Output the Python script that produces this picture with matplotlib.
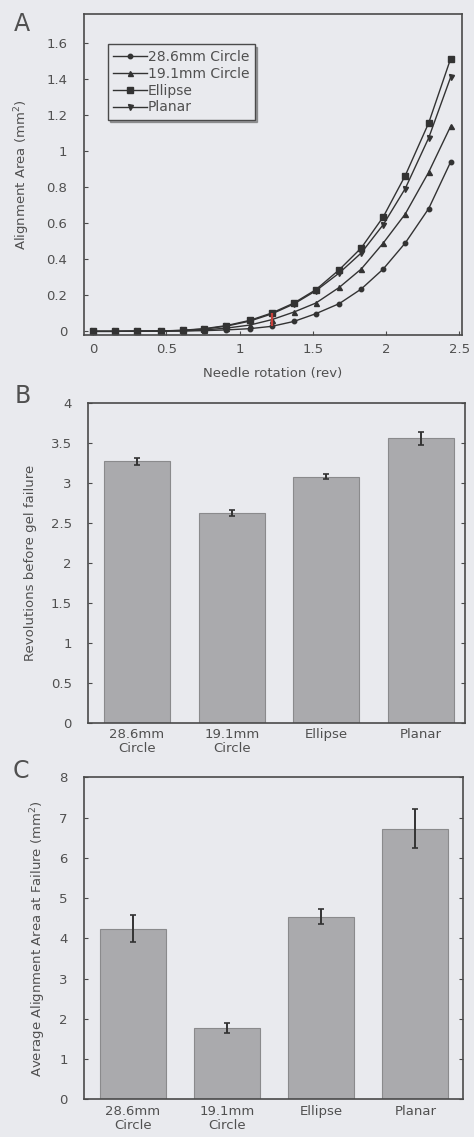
import matplotlib
matplotlib.use("Agg")
import matplotlib.pyplot as plt
import numpy as np

plt.rcParams['font.family'] = ['DejaVu Sans']

# ---------------- data ----------------
rotation = [0, 0.15, 0.3, 0.46, 0.61, 0.76, 0.91, 1.07, 1.22, 1.37, 1.52,
            1.68, 1.83, 1.98, 2.13, 2.29, 2.44]
circle_286 = [0, 0, 0.001, 0.001, 0.002, 0.004, 0.008, 0.015, 0.028, 0.055,
              0.098, 0.154, 0.235, 0.346, 0.49, 0.681, 0.94]
circle_191 = [0, 0, 0.001, 0.002, 0.003, 0.008, 0.018, 0.035, 0.065, 0.107,
              0.157, 0.244, 0.346, 0.49, 0.651, 0.883, 1.138]
ellipse = [0, 0, 0.001, 0.002, 0.006, 0.015, 0.032, 0.061, 0.102, 0.157,
           0.231, 0.342, 0.463, 0.635, 0.864, 1.156, 1.513]
planar = [0, 0, 0.001, 0.002, 0.005, 0.013, 0.029, 0.057, 0.097, 0.152,
          0.225, 0.324, 0.435, 0.592, 0.792, 1.073, 1.41]
series_labels = ["28.6mm Circle", "19.1mm Circle", "Ellipse", "Planar"]
red_index = 8

categories = ["28.6mm\nCircle", "19.1mm\nCircle", "Ellipse", "Planar"]
revolutions = [3.27, 2.625, 3.075, 3.555]
revolutions_err = [0.045, 0.04, 0.03, 0.08]
area_fail = [4.24, 1.76, 4.54, 6.72]
area_fail_err = [0.33, 0.125, 0.19, 0.49]

a_yticks = [0, 0.2, 0.4, 0.6, 0.8, 1.0, 1.2, 1.4, 1.6]
a_yticklabels = ["0", "0.2", "0.4", "0.6", "0.8", "1", "1.2", "1.4", "1.6"]
a_xticks = [0, 0.5, 1.0, 1.5, 2.0, 2.5]
a_xticklabels = ["0", "0.5", "1", "1.5", "2", "2.5"]
b_yticks = [0, 0.5, 1, 1.5, 2, 2.5, 3, 3.5, 4]
b_yticklabels = ["0", "0.5", "1", "1.5", "2", "2.5", "3", "3.5", "4"]
c_yticks = [0, 1, 2, 3, 4, 5, 6, 7, 8]

# ---------------- style ----------------
BG = "#e9eaee"
SPINE = "#4a4a4a"
LINE = "#333333"
BAR = "#aaaaad"
TXT = "#505050"
FS = 9.5

fig = plt.figure(figsize=(4.74, 11.37), dpi=100, facecolor=BG)


def style_axes(ax):
    ax.set_facecolor(BG)
    for s in ax.spines.values():
        s.set_color(SPINE)
        s.set_linewidth(1.2)
    ax.tick_params(colors=SPINE, labelcolor=TXT, labelsize=FS, direction='in',
                   length=3, width=0.8)


# ---------------- Panel A ----------------
axA = fig.add_axes([0.177, 0.7054, 0.797, 0.2823])
style_axes(axA)
markers = ['o', '^', 's', 'v']
sizes = [3.2, 3.6, 4.0, 3.6]
for ys, lab, m, ms in zip([circle_286, circle_191, ellipse, planar],
                          series_labels, markers, sizes):
    axA.plot(rotation, ys, color=LINE, lw=1.0, marker=m, ms=ms,
             mfc=LINE, mec=LINE, label=lab)
vals = [circle_286[red_index], circle_191[red_index], ellipse[red_index], planar[red_index]]
axA.vlines(rotation[red_index], min(vals), max(vals), color="#c8403a", lw=1.6, zorder=5)
axA.set_xlim(-0.063, 2.515)
axA.set_ylim(-0.02, 1.76)
axA.set_yticks(a_yticks)
axA.set_yticklabels(a_yticklabels)
axA.set_xticks(a_xticks)
axA.set_xticklabels(a_xticklabels)
axA.tick_params(axis='y', pad=12)
axA.tick_params(axis='x', pad=6)
axA.set_ylabel("Alignment Area (mm$^2$)", fontsize=FS, color=TXT, labelpad=10)
axA.set_xlabel("Needle rotation (rev)", fontsize=FS, color=TXT, labelpad=8)
leg = axA.legend(loc='upper left', bbox_to_anchor=(0.063, 0.905), fontsize=10,
                 frameon=True, fancybox=False,
                 shadow={'ox': 1.5, 'oy': -1.5, 'color': '#555555'},
                 handlelength=2.4, handletextpad=0.1, borderpad=0.4,
                 labelspacing=0.2, borderaxespad=0)
leg.get_frame().set_edgecolor(SPINE)
leg.get_frame().set_facecolor(BG)
leg.get_frame().set_linewidth(1.0)
for t in leg.get_texts():
    t.set_color(TXT)

# ---------------- Panel B ----------------
xpos = np.arange(len(categories))
axB = fig.add_axes([0.1863, 0.3644, 0.7947, 0.2814])
style_axes(axB)
axB.bar(xpos, revolutions, width=0.70, color=BAR, edgecolor="#8a8a8c", lw=0.8)
axB.errorbar(xpos, revolutions, yerr=revolutions_err, fmt='none', ecolor=LINE,
             elinewidth=1.4, capsize=2.5, capthick=1.2)
axB.set_xlim(-0.515, 3.465)
axB.set_ylim(0, 4)
axB.set_yticks(b_yticks)
axB.set_yticklabels(b_yticklabels)
axB.set_xticks(xpos)
axB.set_xticklabels(categories, linespacing=1.1)
axB.tick_params(axis='y', right=True, pad=12)
axB.tick_params(axis='x', length=0, pad=4)
axB.set_ylabel("Revolutions before gel failure", fontsize=FS, color=TXT, labelpad=10)

# ---------------- Panel C ----------------
axC = fig.add_axes([0.1778, 0.0332, 0.7996, 0.2832])
style_axes(axC)
axC.bar(xpos, area_fail, width=0.70, color=BAR, edgecolor="#8a8a8c", lw=0.8)
axC.errorbar(xpos, area_fail, yerr=area_fail_err, fmt='none', ecolor=LINE,
             elinewidth=1.4, capsize=2.5, capthick=1.2)
axC.set_xlim(-0.517, 3.51)
axC.set_ylim(0, 8)
axC.set_yticks(c_yticks)
axC.set_xticks(xpos)
axC.set_xticklabels(categories, linespacing=1.1)
axC.tick_params(axis='y', right=True, pad=12)
axC.tick_params(axis='x', length=0, pad=4)
axC.set_ylabel("Average Alignment Area at Failure (mm$^2$)", fontsize=FS,
               color=TXT, labelpad=8)

# ---------------- panel letters ----------------
fig.text(0.047, 0.979, "A", fontsize=17, color=TXT, ha='center', va='center')
fig.text(0.047, 0.652, "B", fontsize=17, color=TXT, ha='center', va='center')
fig.text(0.045, 0.322, "C", fontsize=17, color=TXT, ha='center', va='center')

fig.savefig("out.png", dpi=100, facecolor=BG)
